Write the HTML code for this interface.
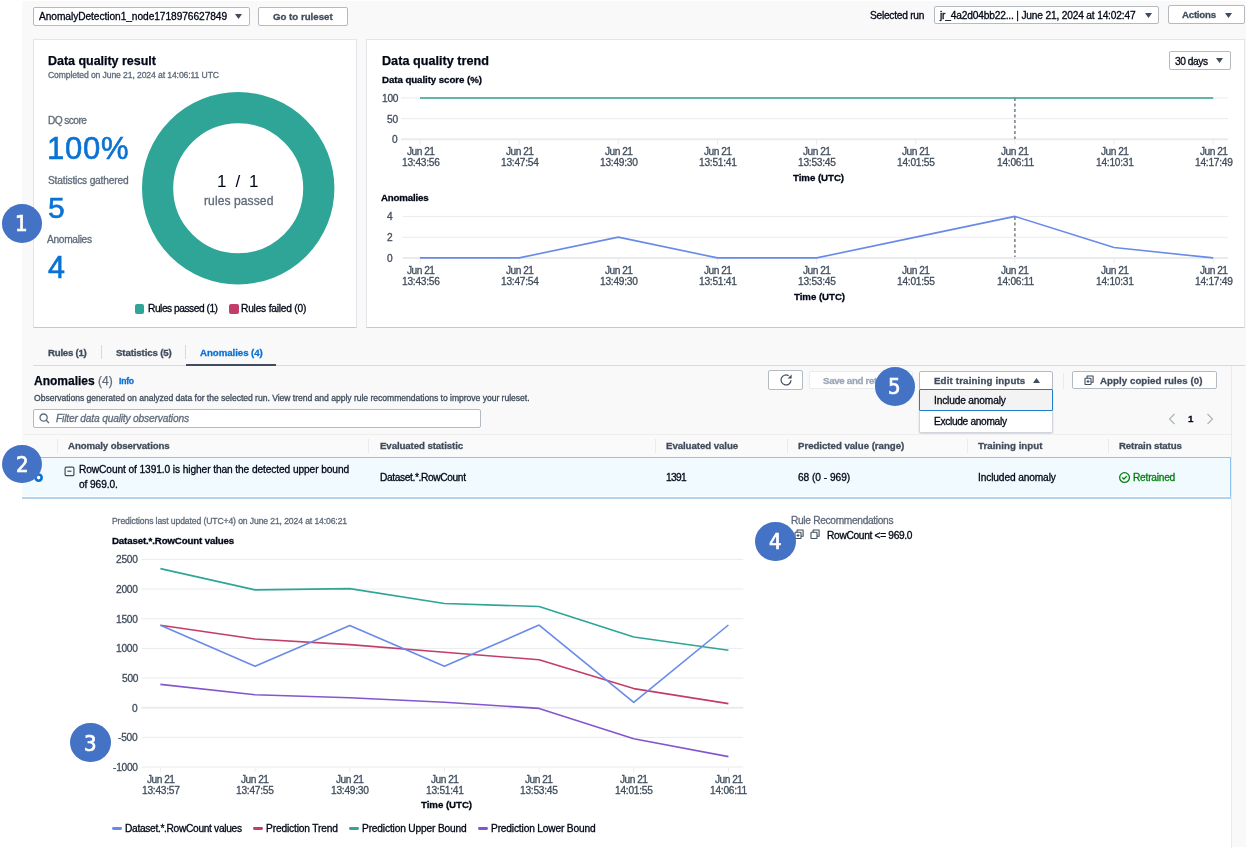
<!DOCTYPE html>
<html lang="en"><head><meta charset="utf-8"><title>Data quality - Anomalies</title>
<style>
html,body{margin:0;padding:0;}
body{width:1246px;height:848px;overflow:hidden;position:relative;background:#fff;font-family:"Liberation Sans",Arial,sans-serif;color:#000716;}
.t{position:absolute;white-space:nowrap;-webkit-text-stroke:0.3px currentColor;will-change:transform;}
.b{position:absolute;}
svg.b{overflow:visible;}
</style></head><body>
<div class="b" style="left:22px;top:1px;width:1224px;height:846px;background:#f9f9fa;"></div>
<div class="b" style="left:0px;top:498px;width:1231px;height:350px;background:#fff;"></div>
<div class="b" style="left:33px;top:6.5px;width:217px;height:19.5px;background:#fff;border:1px solid #b4bac1;border-radius:2px;box-sizing:border-box;"></div>
<div class="t" style="left:39.20px;top:12.00px;color:#000716;font-size:10.2px;line-height:10.2px;letter-spacing:-0.065px;">AnomalyDetection1_node1718976627849</div>
<svg class="b" style="left:234.90px;top:14.00px" width="7" height="5" viewBox="0 0 7 5"><path d="M0 0H7L3.5 5Z" fill="#414d5c"/></svg>
<div class="b" style="left:258px;top:6.5px;width:90px;height:19.2px;background:#fff;border:1px solid #b4bac1;border-radius:2px;box-sizing:border-box;"></div>
<div class="t" style="left:272.90px;top:12.00px;color:#414d5c;font-size:9.7px;line-height:9.7px;font-weight:bold;-webkit-text-stroke:0.3px currentColor;letter-spacing:-0.008px;">Go to ruleset</div>
<div class="t" style="left:870.30px;top:11.00px;color:#000716;font-size:10.2px;line-height:10.2px;letter-spacing:-0.255px;">Selected run</div>
<div class="b" style="left:933.5px;top:5.6px;width:225.0px;height:18.799999999999997px;background:#fff;border:1px solid #b4bac1;border-radius:2px;box-sizing:border-box;"></div>
<div class="t" style="left:940.40px;top:11.00px;color:#000716;font-size:10.2px;line-height:10.2px;letter-spacing:-0.177px;">jr_4a2d04bb22... | June 21, 2024 at 14:02:47</div>
<svg class="b" style="left:1144.50px;top:12.50px" width="7" height="5" viewBox="0 0 7 5"><path d="M0 0H7L3.5 5Z" fill="#414d5c"/></svg>
<div class="b" style="left:1167.5px;top:5.3px;width:77.09999999999991px;height:18.8px;background:#fff;border:1px solid #b4bac1;border-radius:2px;box-sizing:border-box;"></div>
<div class="t" style="left:1181.80px;top:10.00px;color:#414d5c;font-size:9.7px;line-height:9.7px;font-weight:bold;-webkit-text-stroke:0.3px currentColor;letter-spacing:-0.250px;">Actions</div>
<svg class="b" style="left:1224.70px;top:12.50px" width="7" height="5" viewBox="0 0 7 5"><path d="M0 0H7L3.5 5Z" fill="#414d5c"/></svg>
<div class="b" style="left:32.5px;top:38.6px;width:324.3px;height:289.0px;background:#fff;border:1px solid #e3e5e8;border-bottom:1.5px solid #c6cacf;border-radius:1px;box-sizing:border-box;"></div>
<div class="b" style="left:366.0px;top:38.6px;width:879.4000000000001px;height:289.0px;background:#fff;border:1px solid #e3e5e8;border-bottom:1.5px solid #c6cacf;border-radius:1px;box-sizing:border-box;"></div>
<div class="t" style="left:47.50px;top:55.00px;color:#000716;font-size:12.5px;line-height:12.5px;font-weight:bold;-webkit-text-stroke:0.25px currentColor;letter-spacing:-0.028px;">Data quality result</div>
<div class="t" style="left:47.50px;top:71.00px;color:#5f6b7a;font-size:8.6px;line-height:8.6px;letter-spacing:-0.102px;">Completed on June 21, 2024 at 14:06:11 UTC</div>
<div class="t" style="left:47.50px;top:116.00px;color:#5f6b7a;font-size:10.2px;line-height:10.2px;letter-spacing:-0.586px;">DQ score</div>
<div class="t" style="left:46.50px;top:133.00px;color:#0972d3;font-size:31px;line-height:31px;-webkit-text-stroke:0;letter-spacing:0.733px;-webkit-text-stroke:0.6px #0972d3;">100%</div>
<div class="t" style="left:47.50px;top:176.00px;color:#5f6b7a;font-size:10.2px;line-height:10.2px;letter-spacing:-0.178px;">Statistics gathered</div>
<div class="t" style="left:47.50px;top:193.00px;color:#0972d3;font-size:30px;line-height:30px;-webkit-text-stroke:0;-webkit-text-stroke:0.6px #0972d3;">5</div>
<div class="t" style="left:47.30px;top:235.00px;color:#5f6b7a;font-size:10.2px;line-height:10.2px;letter-spacing:-0.312px;">Anomalies</div>
<div class="t" style="left:47.70px;top:252.00px;color:#0972d3;font-size:30.5px;line-height:30.5px;-webkit-text-stroke:0;-webkit-text-stroke:0.6px #0972d3;">4</div>
<svg class="b" style="left:141.40px;top:90.50px" width="194.40" height="194.40"><circle cx="97.20" cy="97.20" r="80.60" fill="none" stroke="#2ea597" stroke-width="31.20"/></svg>
<div class="t" style="left:216.90px;top:173.00px;color:#000716;font-size:17px;line-height:17px;-webkit-text-stroke:0;letter-spacing:2.100px;">1&nbsp;/&nbsp;1</div>
<div class="t" style="left:203.80px;top:195.00px;color:#5f6b7a;font-size:12.1px;line-height:12.1px;letter-spacing:0.073px;">rules passed</div>
<div class="b" style="left:134.6px;top:304px;width:9.800000000000011px;height:9.800000000000011px;background:#2ea597;border-radius:2px;"></div>
<div class="t" style="left:147.50px;top:304.00px;color:#000716;font-size:10.2px;line-height:10.2px;letter-spacing:-0.467px;">Rules passed (1)</div>
<div class="b" style="left:229px;top:304px;width:9.599999999999994px;height:9.800000000000011px;background:#c33d69;border-radius:2px;"></div>
<div class="t" style="left:241.20px;top:304.00px;color:#000716;font-size:10.2px;line-height:10.2px;letter-spacing:-0.207px;">Rules failed (0)</div>
<div class="t" style="left:381.50px;top:55.00px;color:#000716;font-size:12.6px;line-height:12.6px;font-weight:bold;-webkit-text-stroke:0.25px currentColor;letter-spacing:0.029px;">Data quality trend</div>
<div class="t" style="left:381.60px;top:75.00px;color:#000716;font-size:9.7px;line-height:9.7px;font-weight:bold;-webkit-text-stroke:0.3px currentColor;letter-spacing:-0.062px;">Data quality score (%)</div>
<div class="b" style="left:1168.5px;top:51.2px;width:62.09999999999991px;height:18.89999999999999px;background:#fff;border:1px solid #b4bac1;border-radius:2px;box-sizing:border-box;"></div>
<div class="t" style="left:1175.00px;top:57.00px;color:#000716;font-size:10.2px;line-height:10.2px;letter-spacing:-0.450px;">30 days</div>
<svg class="b" style="left:1216.00px;top:58.10px" width="7" height="5" viewBox="0 0 7 5"><path d="M0 0H7L3.5 5Z" fill="#414d5c"/></svg>
<svg class="b" style="left:0;top:0" width="1246" height="848"><line x1="401" x2="1228" y1="97.9" y2="97.9" stroke="#e9ebed" stroke-width="1"/><line x1="401" x2="1228" y1="118.6" y2="118.6" stroke="#e9ebed" stroke-width="1"/><line x1="401" x2="1228" y1="139.3" y2="139.3" stroke="#e9ebed" stroke-width="2"/><line x1="420.00" x2="420.00" y1="139.3" y2="144.6" stroke="#e9ebed" stroke-width="1"/><line x1="519.15" x2="519.15" y1="139.3" y2="144.6" stroke="#e9ebed" stroke-width="1"/><line x1="618.30" x2="618.30" y1="139.3" y2="144.6" stroke="#e9ebed" stroke-width="1"/><line x1="717.45" x2="717.45" y1="139.3" y2="144.6" stroke="#e9ebed" stroke-width="1"/><line x1="816.60" x2="816.60" y1="139.3" y2="144.6" stroke="#e9ebed" stroke-width="1"/><line x1="915.75" x2="915.75" y1="139.3" y2="144.6" stroke="#e9ebed" stroke-width="1"/><line x1="1014.90" x2="1014.90" y1="139.3" y2="144.6" stroke="#e9ebed" stroke-width="1"/><line x1="1114.05" x2="1114.05" y1="139.3" y2="144.6" stroke="#e9ebed" stroke-width="1"/><line x1="1213.20" x2="1213.20" y1="139.3" y2="144.6" stroke="#e9ebed" stroke-width="1"/><line x1="420" x2="1213.20" y1="97.9" y2="97.9" stroke="#5fb7ab" stroke-width="2"/><line x1="1014.90" x2="1014.90" y1="98" y2="139" stroke="#6b737d" stroke-width="1.4" stroke-dasharray="3 2.5"/><line x1="402.6" x2="1228" y1="216.4" y2="216.4" stroke="#e9ebed" stroke-width="1"/><line x1="402.6" x2="1228" y1="237.3" y2="237.3" stroke="#e9ebed" stroke-width="1"/><line x1="402.6" x2="1228" y1="257.9" y2="257.9" stroke="#e9ebed" stroke-width="2"/><line x1="420.00" x2="420.00" y1="257.9" y2="263.2" stroke="#e9ebed" stroke-width="1"/><line x1="519.15" x2="519.15" y1="257.9" y2="263.2" stroke="#e9ebed" stroke-width="1"/><line x1="618.30" x2="618.30" y1="257.9" y2="263.2" stroke="#e9ebed" stroke-width="1"/><line x1="717.45" x2="717.45" y1="257.9" y2="263.2" stroke="#e9ebed" stroke-width="1"/><line x1="816.60" x2="816.60" y1="257.9" y2="263.2" stroke="#e9ebed" stroke-width="1"/><line x1="915.75" x2="915.75" y1="257.9" y2="263.2" stroke="#e9ebed" stroke-width="1"/><line x1="1014.90" x2="1014.90" y1="257.9" y2="263.2" stroke="#e9ebed" stroke-width="1"/><line x1="1114.05" x2="1114.05" y1="257.9" y2="263.2" stroke="#e9ebed" stroke-width="1"/><line x1="1213.20" x2="1213.20" y1="257.9" y2="263.2" stroke="#e9ebed" stroke-width="1"/><polyline points="420.00,257.90 519.15,257.90 618.30,237.15 717.45,257.90 816.60,257.90 915.75,237.15 1014.90,216.40 1114.05,247.52 1213.20,257.90" fill="none" stroke="#688ae8" stroke-width="1.6" stroke-linejoin="round"/><line x1="1014.90" x2="1014.90" y1="217" y2="257" stroke="#6b737d" stroke-width="1.4" stroke-dasharray="3 2.5"/></svg>
<div class="t" style="left:382.00px;top:94.00px;color:#414d5c;font-size:10.2px;line-height:10.2px;letter-spacing:-0.260px;">100</div>
<div class="t" style="left:387.00px;top:115.00px;color:#414d5c;font-size:10.2px;line-height:10.2px;letter-spacing:-0.260px;">50</div>
<div class="t" style="left:392.00px;top:135.00px;color:#414d5c;font-size:10.2px;line-height:10.2px;letter-spacing:-0.260px;">0</div>
<div class="t" style="left:387.00px;top:212.00px;color:#414d5c;font-size:10.2px;line-height:10.2px;letter-spacing:-0.260px;">4</div>
<div class="t" style="left:387.00px;top:233.00px;color:#414d5c;font-size:10.2px;line-height:10.2px;letter-spacing:-0.260px;">2</div>
<div class="t" style="left:387.00px;top:254.00px;color:#414d5c;font-size:10.2px;line-height:10.2px;letter-spacing:-0.260px;">0</div>
<div class="t" style="left:406.50px;top:147.00px;color:#414d5c;font-size:10.2px;line-height:10.2px;letter-spacing:-0.520px;">Jun 21</div>
<div class="t" style="left:401.50px;top:158.00px;color:#414d5c;font-size:10.2px;line-height:10.2px;letter-spacing:-0.260px;">13:43:56</div>
<div class="t" style="left:406.50px;top:266.00px;color:#414d5c;font-size:10.2px;line-height:10.2px;letter-spacing:-0.520px;">Jun 21</div>
<div class="t" style="left:401.50px;top:277.00px;color:#414d5c;font-size:10.2px;line-height:10.2px;letter-spacing:-0.260px;">13:43:56</div>
<div class="t" style="left:505.65px;top:147.00px;color:#414d5c;font-size:10.2px;line-height:10.2px;letter-spacing:-0.520px;">Jun 21</div>
<div class="t" style="left:500.65px;top:158.00px;color:#414d5c;font-size:10.2px;line-height:10.2px;letter-spacing:-0.260px;">13:47:54</div>
<div class="t" style="left:505.65px;top:266.00px;color:#414d5c;font-size:10.2px;line-height:10.2px;letter-spacing:-0.520px;">Jun 21</div>
<div class="t" style="left:500.65px;top:277.00px;color:#414d5c;font-size:10.2px;line-height:10.2px;letter-spacing:-0.260px;">13:47:54</div>
<div class="t" style="left:604.80px;top:147.00px;color:#414d5c;font-size:10.2px;line-height:10.2px;letter-spacing:-0.520px;">Jun 21</div>
<div class="t" style="left:599.80px;top:158.00px;color:#414d5c;font-size:10.2px;line-height:10.2px;letter-spacing:-0.260px;">13:49:30</div>
<div class="t" style="left:604.80px;top:266.00px;color:#414d5c;font-size:10.2px;line-height:10.2px;letter-spacing:-0.520px;">Jun 21</div>
<div class="t" style="left:599.80px;top:277.00px;color:#414d5c;font-size:10.2px;line-height:10.2px;letter-spacing:-0.260px;">13:49:30</div>
<div class="t" style="left:703.95px;top:147.00px;color:#414d5c;font-size:10.2px;line-height:10.2px;letter-spacing:-0.520px;">Jun 21</div>
<div class="t" style="left:698.95px;top:158.00px;color:#414d5c;font-size:10.2px;line-height:10.2px;letter-spacing:-0.260px;">13:51:41</div>
<div class="t" style="left:703.95px;top:266.00px;color:#414d5c;font-size:10.2px;line-height:10.2px;letter-spacing:-0.520px;">Jun 21</div>
<div class="t" style="left:698.95px;top:277.00px;color:#414d5c;font-size:10.2px;line-height:10.2px;letter-spacing:-0.260px;">13:51:41</div>
<div class="t" style="left:803.10px;top:147.00px;color:#414d5c;font-size:10.2px;line-height:10.2px;letter-spacing:-0.520px;">Jun 21</div>
<div class="t" style="left:798.10px;top:158.00px;color:#414d5c;font-size:10.2px;line-height:10.2px;letter-spacing:-0.260px;">13:53:45</div>
<div class="t" style="left:803.10px;top:266.00px;color:#414d5c;font-size:10.2px;line-height:10.2px;letter-spacing:-0.520px;">Jun 21</div>
<div class="t" style="left:798.10px;top:277.00px;color:#414d5c;font-size:10.2px;line-height:10.2px;letter-spacing:-0.260px;">13:53:45</div>
<div class="t" style="left:902.25px;top:147.00px;color:#414d5c;font-size:10.2px;line-height:10.2px;letter-spacing:-0.520px;">Jun 21</div>
<div class="t" style="left:897.25px;top:158.00px;color:#414d5c;font-size:10.2px;line-height:10.2px;letter-spacing:-0.260px;">14:01:55</div>
<div class="t" style="left:902.25px;top:266.00px;color:#414d5c;font-size:10.2px;line-height:10.2px;letter-spacing:-0.520px;">Jun 21</div>
<div class="t" style="left:897.25px;top:277.00px;color:#414d5c;font-size:10.2px;line-height:10.2px;letter-spacing:-0.260px;">14:01:55</div>
<div class="t" style="left:1001.40px;top:147.00px;color:#414d5c;font-size:10.2px;line-height:10.2px;letter-spacing:-0.520px;">Jun 21</div>
<div class="t" style="left:996.90px;top:158.00px;color:#414d5c;font-size:10.2px;line-height:10.2px;letter-spacing:-0.260px;">14:06:11</div>
<div class="t" style="left:1001.40px;top:266.00px;color:#414d5c;font-size:10.2px;line-height:10.2px;letter-spacing:-0.520px;">Jun 21</div>
<div class="t" style="left:996.90px;top:277.00px;color:#414d5c;font-size:10.2px;line-height:10.2px;letter-spacing:-0.260px;">14:06:11</div>
<div class="t" style="left:1100.55px;top:147.00px;color:#414d5c;font-size:10.2px;line-height:10.2px;letter-spacing:-0.520px;">Jun 21</div>
<div class="t" style="left:1095.55px;top:158.00px;color:#414d5c;font-size:10.2px;line-height:10.2px;letter-spacing:-0.260px;">14:10:31</div>
<div class="t" style="left:1100.55px;top:266.00px;color:#414d5c;font-size:10.2px;line-height:10.2px;letter-spacing:-0.520px;">Jun 21</div>
<div class="t" style="left:1095.55px;top:277.00px;color:#414d5c;font-size:10.2px;line-height:10.2px;letter-spacing:-0.260px;">14:10:31</div>
<div class="t" style="left:1199.70px;top:147.00px;color:#414d5c;font-size:10.2px;line-height:10.2px;letter-spacing:-0.520px;">Jun 21</div>
<div class="t" style="left:1194.70px;top:158.00px;color:#414d5c;font-size:10.2px;line-height:10.2px;letter-spacing:-0.260px;">14:17:49</div>
<div class="t" style="left:1199.70px;top:266.00px;color:#414d5c;font-size:10.2px;line-height:10.2px;letter-spacing:-0.520px;">Jun 21</div>
<div class="t" style="left:1194.70px;top:277.00px;color:#414d5c;font-size:10.2px;line-height:10.2px;letter-spacing:-0.260px;">14:17:49</div>
<div class="t" style="left:793.00px;top:173.00px;color:#000716;font-size:9.7px;line-height:9.7px;font-weight:bold;-webkit-text-stroke:0.3px currentColor;letter-spacing:-0.044px;">Time (UTC)</div>
<div class="t" style="left:381.00px;top:193.00px;color:#000716;font-size:9.7px;line-height:9.7px;font-weight:bold;-webkit-text-stroke:0.3px currentColor;letter-spacing:-0.162px;">Anomalies</div>
<div class="t" style="left:794.00px;top:292.00px;color:#000716;font-size:9.7px;line-height:9.7px;font-weight:bold;-webkit-text-stroke:0.3px currentColor;letter-spacing:-0.044px;">Time (UTC)</div>
<div class="b" style="left:33px;top:364.8px;width:1212px;height:1.0px;background:#d5dbdb;"></div>
<div class="t" style="left:48.10px;top:348.00px;color:#414d5c;font-size:9.7px;line-height:9.7px;font-weight:bold;-webkit-text-stroke:0.3px currentColor;letter-spacing:-0.263px;">Rules (1)</div>
<div class="b" style="left:100.5px;top:344.8px;width:1.0px;height:13.899999999999977px;background:#d5dbdb;"></div>
<div class="t" style="left:115.50px;top:348.00px;color:#414d5c;font-size:9.7px;line-height:9.7px;font-weight:bold;-webkit-text-stroke:0.3px currentColor;letter-spacing:-0.138px;">Statistics (5)</div>
<div class="b" style="left:185.2px;top:344.8px;width:1.0px;height:13.899999999999977px;background:#d5dbdb;"></div>
<div class="t" style="left:200.40px;top:348.00px;color:#0972d3;font-size:9.7px;line-height:9.7px;font-weight:bold;-webkit-text-stroke:0.3px currentColor;letter-spacing:-0.058px;">Anomalies (4)</div>
<div class="b" style="left:186.3px;top:363.6px;width:89.89999999999998px;height:2.1999999999999886px;background:#414d5c;"></div>
<div class="b" style="left:1231px;top:366px;width:1px;height:482px;background:#e9ebed;"></div>
<div class="t" style="left:33.50px;top:375.00px;color:#000716;font-size:12.0px;line-height:12.0px;font-weight:bold;-webkit-text-stroke:0.25px currentColor;">Anomalies <span style="font-weight:normal;color:#5f6b7a">(4)</span></div>
<div class="t" style="left:118.90px;top:377.00px;color:#0972d3;font-size:8.6px;line-height:8.6px;font-weight:bold;-webkit-text-stroke:0.3px currentColor;letter-spacing:-0.233px;">Info</div>
<div class="t" style="left:33.50px;top:394.00px;color:#414d5c;font-size:8.6px;line-height:8.6px;letter-spacing:-0.035px;">Observations generated on analyzed data for the selected run. View trend and apply rule recommendations to improve your ruleset.</div>
<div class="b" style="left:33.3px;top:409.2px;width:447.7px;height:18.80000000000001px;background:#fff;border:1px solid #b4bac1;border-radius:2px;box-sizing:border-box;"></div>
<svg class="b" style="left:39px;top:412.9px" width="11" height="11" viewBox="0 0 11 11"><circle cx="4.6" cy="4.6" r="3.6" fill="none" stroke="#5f6b7a" stroke-width="1.3"/><line x1="7.2" y1="7.2" x2="10" y2="10" stroke="#5f6b7a" stroke-width="1.3"/></svg>
<div class="t" style="left:56.20px;top:414.00px;color:#5f6b7a;font-size:10.2px;line-height:10.2px;font-style:italic;letter-spacing:-0.165px;">Filter data quality observations</div>
<div class="b" style="left:768.2px;top:370.3px;width:34.69999999999993px;height:19.30000000000001px;background:#fff;border:1px solid #b4bac1;border-radius:2px;box-sizing:border-box;"></div>
<svg class="b" style="left:779.5px;top:374.3px" width="12" height="12" viewBox="0 0 12 12"><path d="M11 6.2A5 5 0 1 1 8.6 1.7" fill="none" stroke="#414d5c" stroke-width="1.25"/><path d="M7.6 4.4H11.6V0.5Z" fill="#414d5c"/></svg>
<div class="b" style="left:808.6px;top:370.6px;width:104.79999999999995px;height:18.399999999999977px;background:#fff;border:1px solid #e9ebed;border-radius:2px;box-sizing:border-box;"></div>
<div class="t" style="left:822.60px;top:376.00px;color:#9ba7b6;font-size:9.7px;line-height:9.7px;font-weight:bold;-webkit-text-stroke:0.3px currentColor;letter-spacing:-0.300px;">Save and retrain</div>
<div class="b" style="left:919.4px;top:370.8px;width:133.39999999999998px;height:18.80000000000001px;background:#fff;border:1px solid #b4bac1;border-radius:2px;box-sizing:border-box;"></div>
<div class="t" style="left:933.90px;top:376.00px;color:#414d5c;font-size:9.7px;line-height:9.7px;font-weight:bold;-webkit-text-stroke:0.3px currentColor;letter-spacing:0.158px;">Edit training inputs</div>
<svg class="b" style="left:1032.70px;top:377.90px" width="7" height="5" viewBox="0 0 7 5"><path d="M0 5H7L3.5 0Z" fill="#414d5c"/></svg>
<div class="b" style="left:1062.5px;top:372.8px;width:1.0px;height:16.19999999999999px;background:#e9ebed;"></div>
<div class="b" style="left:1071.7px;top:370.6px;width:145.29999999999995px;height:18.799999999999955px;background:#fff;border:1px solid #b4bac1;border-radius:2px;box-sizing:border-box;"></div>
<svg class="b" style="left:1083.5px;top:375px" width="10" height="10" viewBox="0 0 10 10"><rect x="1.0" y="3.3" width="6.0" height="6.2" rx="0.6" fill="none" stroke="#414d5c" stroke-width="1.1"/><path d="M3.1 3.3V1.0H9.1V7.3H7" fill="none" stroke="#414d5c" stroke-width="1.1" stroke-linejoin="round"/><path d="M4 4.9V8M2.5 6.4H5.5" stroke="#414d5c" stroke-width="1"/></svg>
<div class="t" style="left:1100.30px;top:376.00px;color:#414d5c;font-size:9.7px;line-height:9.7px;font-weight:bold;-webkit-text-stroke:0.3px currentColor;letter-spacing:0.057px;">Apply copied rules (0)</div>
<div class="b" style="left:919.4px;top:389.6px;width:133.89999999999998px;height:43.39999999999998px;background:#fff;border:1px solid #d1d5db;border-top:none;border-radius:0 0 2px 2px;box-sizing:border-box;box-shadow:0 1px 2px rgba(0,7,22,0.15);"></div>
<div class="b" style="left:919.4px;top:389.2px;width:133.89999999999998px;height:22.100000000000023px;background:#f3f3f3;border:1.5px solid #1f7dcb;border-radius:1px;box-sizing:border-box;"></div>
<div class="t" style="left:933.90px;top:396.00px;color:#000716;font-size:10.2px;line-height:10.2px;letter-spacing:-0.164px;">Include anomaly</div>
<div class="t" style="left:933.90px;top:417.00px;color:#000716;font-size:10.2px;line-height:10.2px;letter-spacing:-0.329px;">Exclude anomaly</div>
<svg class="b" style="left:1168px;top:413px" width="8" height="12" viewBox="0 0 8 12"><path d="M6.5 1L1.5 6L6.5 11" fill="none" stroke="#aab7b8" stroke-width="1.2"/></svg>
<div class="t" style="left:1187.90px;top:414.00px;color:#000716;font-size:9.7px;line-height:9.7px;font-weight:bold;-webkit-text-stroke:0.3px currentColor;">1</div>
<svg class="b" style="left:1206px;top:413px" width="8" height="12" viewBox="0 0 8 12"><path d="M1.5 1L6.5 6L1.5 11" fill="none" stroke="#aab7b8" stroke-width="1.2"/></svg>
<div class="b" style="left:22.5px;top:433.6px;width:1208.5px;height:23.399999999999977px;background:#fafafa;border-top:1px solid #eeeeee;box-sizing:border-box;"></div>
<div class="b" style="left:56.6px;top:439px;width:1.0px;height:13.600000000000023px;background:#e9ebed;"></div>
<div class="b" style="left:367.7px;top:439px;width:1.0px;height:13.600000000000023px;background:#e9ebed;"></div>
<div class="b" style="left:654.5px;top:439px;width:1.0px;height:13.600000000000023px;background:#e9ebed;"></div>
<div class="b" style="left:786.5px;top:439px;width:1.0px;height:13.600000000000023px;background:#e9ebed;"></div>
<div class="b" style="left:966.7px;top:439px;width:1.0px;height:13.600000000000023px;background:#e9ebed;"></div>
<div class="b" style="left:1107.9px;top:439px;width:1.0px;height:13.600000000000023px;background:#e9ebed;"></div>
<div class="t" style="left:68.00px;top:441.00px;color:#414d5c;font-size:9.7px;line-height:9.7px;font-weight:bold;-webkit-text-stroke:0.3px currentColor;letter-spacing:-0.116px;">Anomaly observations</div>
<div class="t" style="left:379.50px;top:441.00px;color:#414d5c;font-size:9.7px;line-height:9.7px;font-weight:bold;-webkit-text-stroke:0.3px currentColor;letter-spacing:-0.106px;">Evaluated statistic</div>
<div class="t" style="left:666.00px;top:441.00px;color:#414d5c;font-size:9.7px;line-height:9.7px;font-weight:bold;-webkit-text-stroke:0.3px currentColor;letter-spacing:-0.079px;">Evaluated value</div>
<div class="t" style="left:798.20px;top:441.00px;color:#414d5c;font-size:9.7px;line-height:9.7px;font-weight:bold;-webkit-text-stroke:0.3px currentColor;letter-spacing:-0.041px;">Predicted value (range)</div>
<div class="t" style="left:978.40px;top:441.00px;color:#414d5c;font-size:9.7px;line-height:9.7px;font-weight:bold;-webkit-text-stroke:0.3px currentColor;letter-spacing:0.031px;">Training input</div>
<div class="t" style="left:1118.80px;top:441.00px;color:#414d5c;font-size:9.7px;line-height:9.7px;font-weight:bold;-webkit-text-stroke:0.3px currentColor;letter-spacing:-0.138px;">Retrain status</div>
<div class="b" style="left:22.5px;top:457px;width:1208.5px;height:39px;background:#f1faff;border-top:1px solid #8cc4ef;border-right:1px solid #8cc4ef;box-sizing:border-box;"></div>
<div class="b" style="left:22.5px;top:496px;width:1208.5px;height:1px;background:#fff;border-right:1px solid #a9cfee;box-sizing:border-box;"></div>
<div class="b" style="left:22px;top:497px;width:1209px;height:2px;background:#b1d5ee;"></div>
<svg class="b" style="left:32.6px;top:471.9px" width="11.2" height="11.2" viewBox="0 0 11.2 11.2"><circle cx="5.6" cy="5.6" r="3.1" fill="#fff" stroke="#0972d3" stroke-width="2.6"/></svg>
<svg class="b" style="left:64.3px;top:466.4px" width="10.5" height="10.5" viewBox="0 0 10.5 10.5"><rect x="1.1" y="1.1" width="8.8" height="8.6" rx="1.3" fill="none" stroke="#414d5c" stroke-width="1.2"/><line x1="3.4" x2="7.5" y1="5.2" y2="5.2" stroke="#414d5c" stroke-width="1.2"/></svg>
<div class="t" style="left:78.80px;top:465.00px;color:#000716;font-size:10.2px;line-height:10.2px;letter-spacing:-0.100px;">RowCount of 1391.0 is higher than the detected upper bound</div>
<div class="t" style="left:78.80px;top:480.00px;color:#000716;font-size:10.2px;line-height:10.2px;letter-spacing:-0.100px;">of 969.0.</div>
<div class="t" style="left:379.50px;top:473.00px;color:#000716;font-size:10.2px;line-height:10.2px;letter-spacing:-0.371px;">Dataset.*.RowCount</div>
<div class="t" style="left:666.00px;top:473.00px;color:#000716;font-size:10.2px;line-height:10.2px;letter-spacing:-0.667px;">1391</div>
<div class="t" style="left:798.20px;top:473.00px;color:#000716;font-size:10.2px;line-height:10.2px;letter-spacing:-0.045px;">68 (0 - 969)</div>
<div class="t" style="left:978.40px;top:473.00px;color:#000716;font-size:10.2px;line-height:10.2px;letter-spacing:-0.133px;">Included anomaly</div>
<svg class="b" style="left:1118.9px;top:471.9px" width="11" height="11" viewBox="0 0 11 11"><circle cx="5.55" cy="5.55" r="4.9" fill="none" stroke="#037f0c" stroke-width="1.3"/><path d="M3.3 5.5L4.9 7.0L7.8 4.1" fill="none" stroke="#037f0c" stroke-width="1.3"/></svg>
<div class="t" style="left:1132.50px;top:473.00px;color:#037f0c;font-size:10.2px;line-height:10.2px;letter-spacing:-0.237px;">Retrained</div>
<div class="t" style="left:112.20px;top:517.00px;color:#5f6b7a;font-size:8.6px;line-height:8.6px;letter-spacing:-0.107px;">Predictions last updated (UTC+4) on June 21, 2024 at 14:06:21</div>
<div class="t" style="left:112.20px;top:536.00px;color:#000716;font-size:9.7px;line-height:9.7px;font-weight:bold;-webkit-text-stroke:0.3px currentColor;letter-spacing:-0.137px;">Dataset.*.RowCount values</div>
<svg class="b" style="left:0;top:0" width="1246" height="848"><line x1="141.5" x2="743.2" y1="559.40" y2="559.40" stroke="#e9ebed" stroke-width="1"/><line x1="141.5" x2="743.2" y1="589.06" y2="589.06" stroke="#e9ebed" stroke-width="1"/><line x1="141.5" x2="743.2" y1="618.72" y2="618.72" stroke="#e9ebed" stroke-width="1"/><line x1="141.5" x2="743.2" y1="648.38" y2="648.38" stroke="#e9ebed" stroke-width="1"/><line x1="141.5" x2="743.2" y1="678.04" y2="678.04" stroke="#e9ebed" stroke-width="1"/><line x1="141.5" x2="743.2" y1="707.70" y2="707.70" stroke="#e9ebed" stroke-width="2"/><line x1="141.5" x2="743.2" y1="737.36" y2="737.36" stroke="#e9ebed" stroke-width="1"/><line x1="141.5" x2="743.2" y1="767.02" y2="767.02" stroke="#e9ebed" stroke-width="1"/><line x1="160.40" x2="160.40" y1="767.02" y2="772.02" stroke="#e9ebed" stroke-width="1"/><line x1="255.07" x2="255.07" y1="767.02" y2="772.02" stroke="#e9ebed" stroke-width="1"/><line x1="349.74" x2="349.74" y1="767.02" y2="772.02" stroke="#e9ebed" stroke-width="1"/><line x1="444.41" x2="444.41" y1="767.02" y2="772.02" stroke="#e9ebed" stroke-width="1"/><line x1="539.08" x2="539.08" y1="767.02" y2="772.02" stroke="#e9ebed" stroke-width="1"/><line x1="633.75" x2="633.75" y1="767.02" y2="772.02" stroke="#e9ebed" stroke-width="1"/><line x1="728.42" x2="728.42" y1="767.02" y2="772.02" stroke="#e9ebed" stroke-width="1"/><polyline points="160.40,568.60 255.07,589.90 349.74,588.60 444.41,603.50 539.08,606.50 633.75,637.00 728.42,650.20" fill="none" stroke="#2ea597" stroke-width="1.6" stroke-linejoin="round"/><polyline points="160.40,684.40 255.07,694.80 349.74,697.70 444.41,702.20 539.08,708.40 633.75,738.70 728.42,756.60" fill="none" stroke="#8456ce" stroke-width="1.6" stroke-linejoin="round"/><polyline points="160.40,625.20 255.07,639.00 349.74,644.60 444.41,652.20 539.08,659.80 633.75,688.60 728.42,703.60" fill="none" stroke="#c33d69" stroke-width="1.6" stroke-linejoin="round"/><polyline points="160.40,625.20 255.07,666.30 349.74,625.60 444.41,666.30 539.08,625.10 633.75,702.30 728.42,625.00" fill="none" stroke="#688ae8" stroke-width="1.6" stroke-linejoin="round"/></svg>
<div class="t" style="left:116.30px;top:555.00px;color:#414d5c;font-size:10.2px;line-height:10.2px;letter-spacing:-0.260px;">2500</div>
<div class="t" style="left:116.30px;top:585.00px;color:#414d5c;font-size:10.2px;line-height:10.2px;letter-spacing:-0.260px;">2000</div>
<div class="t" style="left:116.30px;top:615.00px;color:#414d5c;font-size:10.2px;line-height:10.2px;letter-spacing:-0.260px;">1500</div>
<div class="t" style="left:116.30px;top:644.00px;color:#414d5c;font-size:10.2px;line-height:10.2px;letter-spacing:-0.260px;">1000</div>
<div class="t" style="left:122.30px;top:674.00px;color:#414d5c;font-size:10.2px;line-height:10.2px;letter-spacing:-0.260px;">500</div>
<div class="t" style="left:132.30px;top:704.00px;color:#414d5c;font-size:10.2px;line-height:10.2px;letter-spacing:-0.260px;">0</div>
<div class="t" style="left:118.30px;top:733.00px;color:#414d5c;font-size:10.2px;line-height:10.2px;letter-spacing:-0.260px;">-500</div>
<div class="t" style="left:113.30px;top:763.00px;color:#414d5c;font-size:10.2px;line-height:10.2px;letter-spacing:-0.260px;">-1000</div>
<div class="t" style="left:146.70px;top:775.00px;color:#414d5c;font-size:10.2px;line-height:10.2px;letter-spacing:-0.520px;">Jun 21</div>
<div class="t" style="left:141.70px;top:786.00px;color:#414d5c;font-size:10.2px;line-height:10.2px;letter-spacing:-0.260px;">13:43:57</div>
<div class="t" style="left:241.37px;top:775.00px;color:#414d5c;font-size:10.2px;line-height:10.2px;letter-spacing:-0.520px;">Jun 21</div>
<div class="t" style="left:236.37px;top:786.00px;color:#414d5c;font-size:10.2px;line-height:10.2px;letter-spacing:-0.260px;">13:47:55</div>
<div class="t" style="left:336.04px;top:775.00px;color:#414d5c;font-size:10.2px;line-height:10.2px;letter-spacing:-0.520px;">Jun 21</div>
<div class="t" style="left:331.04px;top:786.00px;color:#414d5c;font-size:10.2px;line-height:10.2px;letter-spacing:-0.260px;">13:49:30</div>
<div class="t" style="left:430.71px;top:775.00px;color:#414d5c;font-size:10.2px;line-height:10.2px;letter-spacing:-0.520px;">Jun 21</div>
<div class="t" style="left:425.71px;top:786.00px;color:#414d5c;font-size:10.2px;line-height:10.2px;letter-spacing:-0.260px;">13:51:41</div>
<div class="t" style="left:525.38px;top:775.00px;color:#414d5c;font-size:10.2px;line-height:10.2px;letter-spacing:-0.520px;">Jun 21</div>
<div class="t" style="left:520.38px;top:786.00px;color:#414d5c;font-size:10.2px;line-height:10.2px;letter-spacing:-0.260px;">13:53:45</div>
<div class="t" style="left:620.05px;top:775.00px;color:#414d5c;font-size:10.2px;line-height:10.2px;letter-spacing:-0.520px;">Jun 21</div>
<div class="t" style="left:615.05px;top:786.00px;color:#414d5c;font-size:10.2px;line-height:10.2px;letter-spacing:-0.260px;">14:01:55</div>
<div class="t" style="left:714.72px;top:775.00px;color:#414d5c;font-size:10.2px;line-height:10.2px;letter-spacing:-0.520px;">Jun 21</div>
<div class="t" style="left:710.22px;top:786.00px;color:#414d5c;font-size:10.2px;line-height:10.2px;letter-spacing:-0.260px;">14:06:11</div>
<div class="t" style="left:421.00px;top:800.00px;color:#000716;font-size:9.7px;line-height:9.7px;font-weight:bold;-webkit-text-stroke:0.3px currentColor;letter-spacing:-0.044px;">Time (UTC)</div>
<div class="b" style="left:112.2px;top:827.1px;width:9.400000000000006px;height:2.699999999999932px;background:#688ae8;border-radius:1.4px;"></div>
<div class="t" style="left:124.60px;top:824.00px;color:#000716;font-size:10.2px;line-height:10.2px;letter-spacing:-0.317px;">Dataset.*.RowCount values</div>
<div class="b" style="left:253.3px;top:827.1px;width:9.399999999999977px;height:2.699999999999932px;background:#c33d69;border-radius:1.4px;"></div>
<div class="t" style="left:266.00px;top:824.00px;color:#000716;font-size:10.2px;line-height:10.2px;letter-spacing:-0.147px;">Prediction Trend</div>
<div class="b" style="left:349.4px;top:827.1px;width:9.399999999999977px;height:2.699999999999932px;background:#2ea597;border-radius:1.4px;"></div>
<div class="t" style="left:361.90px;top:824.00px;color:#000716;font-size:10.2px;line-height:10.2px;letter-spacing:-0.162px;">Prediction Upper Bound</div>
<div class="b" style="left:478.3px;top:827.1px;width:9.399999999999977px;height:2.699999999999932px;background:#8456ce;border-radius:1.4px;"></div>
<div class="t" style="left:490.60px;top:824.00px;color:#000716;font-size:10.2px;line-height:10.2px;letter-spacing:-0.167px;">Prediction Lower Bound</div>
<div class="t" style="left:791.00px;top:516.00px;color:#5f6b7a;font-size:10.2px;line-height:10.2px;letter-spacing:-0.326px;">Rule Recommendations</div>
<svg class="b" style="left:794.3px;top:529.3px" width="10" height="10" viewBox="0 0 10 10"><rect x="1.0" y="3.3" width="6.0" height="6.2" rx="0.6" fill="none" stroke="#414d5c" stroke-width="1.1"/><path d="M3.1 3.3V1.0H9.1V7.3H7" fill="none" stroke="#414d5c" stroke-width="1.1" stroke-linejoin="round"/><path d="M4 4.9V8M2.5 6.4H5.5" stroke="#414d5c" stroke-width="1"/></svg>
<svg class="b" style="left:810.3px;top:529.3px" width="10" height="10" viewBox="0 0 10 10"><rect x="1.0" y="3.3" width="6.0" height="6.2" rx="0.6" fill="none" stroke="#414d5c" stroke-width="1.1"/><path d="M3.1 3.3V1.0H9.1V7.3H7" fill="none" stroke="#414d5c" stroke-width="1.1" stroke-linejoin="round"/></svg>
<div class="t" style="left:827.00px;top:531.00px;color:#000716;font-size:10.2px;line-height:10.2px;letter-spacing:-0.319px;">RowCount &lt;= 969.0</div>
<div class="b" style="left:1.85px;top:204.05px;width:40.199999999999996px;height:38.79999999999998px;background:#4472c4;border-radius:50%;"></div>
<div class="t" style="left:15.35px;top:213.00px;color:#fff;font-size:22px;line-height:22px;-webkit-text-stroke:0;font-family:'DejaVu Sans Condensed','DejaVu Sans',sans-serif;-webkit-text-stroke:0.7px #fff;">1</div>
<div class="b" style="left:1.85px;top:444.55px;width:40.199999999999996px;height:38.80000000000001px;background:#4472c4;border-radius:50%;"></div>
<div class="t" style="left:15.75px;top:454.00px;color:#fff;font-size:22px;line-height:22px;-webkit-text-stroke:0;font-family:'DejaVu Sans Condensed','DejaVu Sans',sans-serif;-webkit-text-stroke:0.7px #fff;">2</div>
<div class="b" style="left:70.4px;top:723.0px;width:40.19999999999999px;height:38.799999999999955px;background:#4472c4;border-radius:50%;"></div>
<div class="t" style="left:83.70px;top:733.00px;color:#fff;font-size:22px;line-height:22px;-webkit-text-stroke:0;font-family:'DejaVu Sans Condensed','DejaVu Sans',sans-serif;-webkit-text-stroke:0.7px #fff;">3</div>
<div class="b" style="left:755.35px;top:522.05px;width:40.19999999999993px;height:38.80000000000007px;background:#4472c4;border-radius:50%;"></div>
<div class="t" style="left:769.15px;top:531.00px;color:#fff;font-size:22px;line-height:22px;-webkit-text-stroke:0;font-family:'DejaVu Sans Condensed','DejaVu Sans',sans-serif;-webkit-text-stroke:0.7px #fff;">4</div>
<div class="b" style="left:874.8px;top:366.95px;width:40.200000000000045px;height:38.80000000000001px;background:#4472c4;border-radius:50%;"></div>
<div class="t" style="left:887.70px;top:376.00px;color:#fff;font-size:22px;line-height:22px;-webkit-text-stroke:0;font-family:'DejaVu Sans Condensed','DejaVu Sans',sans-serif;-webkit-text-stroke:0.7px #fff;">5</div>
</body></html>
